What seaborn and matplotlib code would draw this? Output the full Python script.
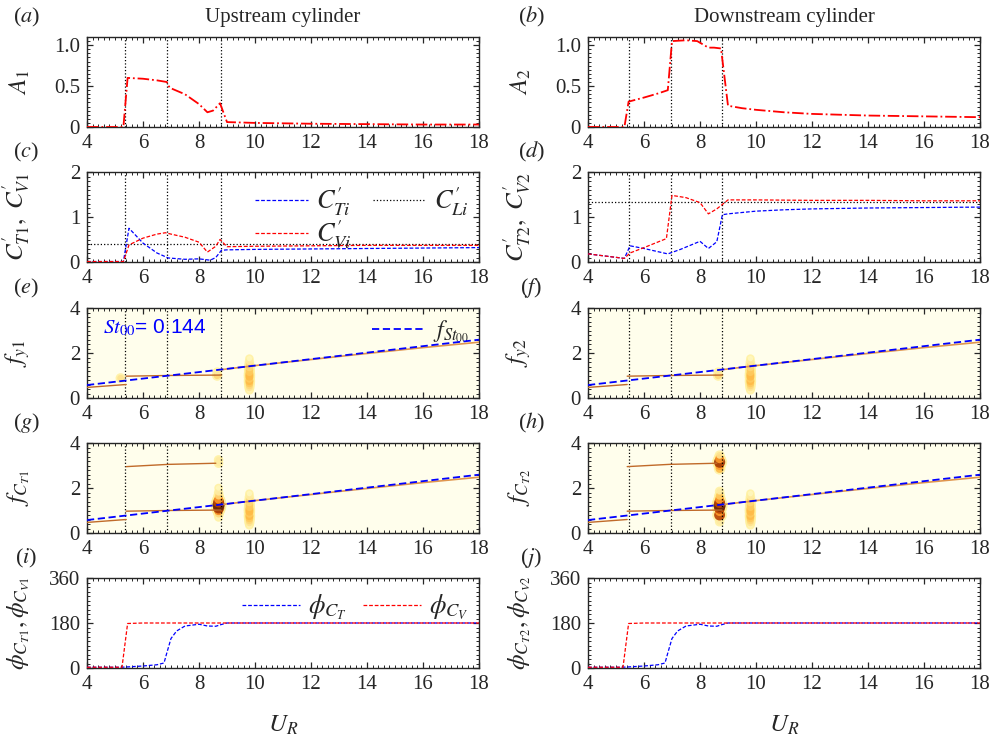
import numpy as np
import pandas as pd
import matplotlib
matplotlib.use("Agg")
import matplotlib.pyplot as plt
import seaborn as sns
from matplotlib.ticker import AutoMinorLocator

# ---------------- data ----------------
bounds_up = [5.35, 6.87, 8.77]
bounds_down = [5.45, 6.95, 8.80]

ur_a1 = [4.0, 5.0, 5.3, 5.45, 6.0, 6.5, 6.85, 6.95, 7.5, 8.0, 8.3, 8.5, 8.75, 9.0, 10, 12, 14, 16, 18]
a1 = [0.0, 0.0, 0.0, 0.60, 0.59, 0.57, 0.55, 0.48, 0.40, 0.28, 0.18, 0.20, 0.29, 0.06, 0.05, 0.04, 0.035, 0.03, 0.03]

ur_a2 = [4.0, 5.0, 5.3, 5.45, 6.0, 6.5, 6.85, 7.0, 7.5, 7.9, 8.3, 8.5, 8.75, 9.0, 9.5, 10, 11, 12, 14, 16, 18]
a2 = [0.0, 0.0, 0.0, 0.31, 0.36, 0.41, 0.45, 1.05, 1.06, 1.05, 0.97, 0.97, 0.96, 0.26, 0.23, 0.21, 0.18, 0.16, 0.14, 0.13, 0.12]

ur_ct1 = [4.0, 5.0, 5.3, 5.5, 6.0, 6.5, 6.9, 7.5, 8.0, 8.4, 8.6, 8.8, 9.0, 10, 12, 14, 16, 18]
ct1 = [0.01, 0.01, 0.01, 0.75, 0.42, 0.20, 0.09, 0.06, 0.07, 0.04, 0.10, 0.26, 0.27, 0.28, 0.29, 0.30, 0.31, 0.32]
ur_cv1 = [4.0, 5.0, 5.3, 5.5, 6.0, 6.5, 6.8, 7.0, 7.5, 8.0, 8.3, 8.6, 8.75, 9.0, 10, 12, 14, 16, 18]
cv1 = [0.01, 0.01, 0.01, 0.38, 0.53, 0.62, 0.65, 0.62, 0.55, 0.44, 0.22, 0.35, 0.50, 0.34, 0.35, 0.36, 0.37, 0.37, 0.37]
cl1 = 0.40

ur_ct2 = [4.0, 5.3, 5.5, 6.0, 6.85, 7.3, 8.0, 8.3, 8.6, 8.8, 9.0, 9.5, 10, 11, 12, 14, 16, 18]
ct2 = [0.18, 0.08, 0.36, 0.30, 0.18, 0.28, 0.46, 0.30, 0.45, 1.05, 1.07, 1.10, 1.13, 1.16, 1.18, 1.20, 1.21, 1.22]
ur_cv2 = [4.0, 5.3, 5.5, 6.0, 6.8, 7.0, 7.5, 8.0, 8.3, 8.6, 8.8, 9.0, 10, 12, 14, 16, 18]
cv2 = [0.18, 0.08, 0.20, 0.32, 0.52, 1.48, 1.43, 1.32, 1.07, 1.18, 1.28, 1.38, 1.38, 1.37, 1.37, 1.36, 1.36]
cl2 = 1.33

st00 = 0.144
ur_st = [4.0, 18.0]
f_st = [0.576, 2.592]

# spectral ridges (UR, f)
ridge_low_x = [4.0, 5.4]
ridge_low_f = [0.47, 0.60]
ridge_lock_x = [5.4, 6.9, 8.8]
ridge_lock_f = [0.97, 1.00, 1.02]
ridge_high_x = [8.8, 10, 12, 14, 16, 18]
ridge_high_f = [1.26, 1.44, 1.71, 1.98, 2.24, 2.48]
ridge_harm_x = [5.4, 6.9, 8.6]
ridge_harm_f = [2.95, 3.05, 3.10]

# spectral hot spots (UR, f, strength)
col_x = [9.8, 9.8, 9.8, 9.8, 9.8, 9.8, 9.8, 9.8, 9.8, 9.8, 9.8, 9.8, 9.8, 9.8]
col_f = [0.35, 0.45, 0.55, 0.65, 0.75, 0.85, 0.95, 1.05, 1.15, 1.25, 1.35, 1.45, 1.6, 1.75]
col_s = [0.15, 0.25, 0.30, 0.35, 0.40, 0.35, 0.40, 0.40, 0.35, 0.35, 0.30, 0.30, 0.20, 0.12]

spot_e_x = [5.2, 8.65, 8.65]
spot_e_f = [0.88, 1.0, 1.15]
spot_e_s = [0.25, 0.30, 0.20]

spot_g_x = [8.7, 8.7, 8.7, 8.7, 8.7, 8.7, 8.7, 8.7, 8.7, 8.7, 8.7, 8.7]
spot_g_f = [0.7, 0.85, 1.0, 1.12, 1.25, 1.38, 1.5, 1.65, 1.8, 2.0, 3.1, 3.25]
spot_g_s = [0.15, 0.3, 0.55, 0.85, 1.0, 0.8, 0.5, 0.3, 0.2, 0.12, 0.2, 0.2]

spot_h_x = [8.7, 8.7, 8.7, 8.7, 8.7, 8.7, 8.7, 8.7, 8.7, 8.7, 8.7, 8.7, 8.7, 8.7]
spot_h_f = [0.5, 0.8, 0.95, 1.1, 1.22, 1.35, 1.5, 1.65, 1.85, 2.85, 3.0, 3.15, 3.3, 3.45]
spot_h_s = [0.2, 0.8, 0.5, 0.8, 1.0, 0.8, 0.5, 0.35, 0.2, 0.4, 0.5, 0.85, 0.5, 0.25]

ur_pv = [4.0, 5.25, 5.45, 6.0, 18.0]
phi_v = [3, 3, 178, 180, 180]
ur_pt = [4.0, 5.2, 5.4, 6.0, 6.5, 6.75, 6.85, 7.0, 7.2, 7.5, 8.0, 8.3, 8.6, 8.8, 9.0, 10, 18]
phi_t = [3, 3, 4, 8, 13, 20, 60, 118, 148, 168, 175, 168, 167, 174, 180, 180, 180]

# ---------------- style ----------------
sns.set_style("ticks")
plt.rcParams["font.family"] = ["Liberation Serif", "DejaVu Serif"]
plt.rcParams["mathtext.fontset"] = "stix"
plt.rcParams["axes.linewidth"] = 1.0

W, H = 1001, 737
fig = plt.figure(figsize=(W / 100, H / 100), dpi=100)
lefts = [87, 588]
aw = 392
tops = [37, 172, 308, 443, 578]
ah = 90

axes = [[None] * 2 for _ in range(5)]
for r, t in enumerate(tops):
    for c, l in enumerate(lefts):
        axes[r][c] = fig.add_axes([l / W, (H - t - ah) / H, aw / W, ah / H])

RED = "#ff0000"
BLUE = "#0000ff"
SPEC_BG = "#fffeec"


def style(ax, yt, ylab, bounds):
    ax.set_xlim(4, 18)
    ax.set_xticks([4, 6, 8, 10, 12, 14, 16, 18])
    ax.set_xticklabels(["4", "6", "8", "10", "12", "14", "16", "18"])
    ax.set_yticks(yt[0])
    ax.set_yticklabels(yt[1])
    ax.xaxis.set_minor_locator(AutoMinorLocator(10))
    ax.yaxis.set_minor_locator(AutoMinorLocator(10))
    ax.tick_params(which="both", direction="in", top=True, right=True, labelsize=15, pad=5)
    ax.tick_params(which="major", length=4, width=0.9)
    ax.tick_params(which="minor", length=2, width=0.7)
    ax.set_ylabel(ylab, fontsize=18)
    ax.yaxis.set_label_coords(-0.14, 0.5)
    ax.set_xlabel("")
    for b in bounds:
        ax.axvline(b, color="black", ls=":", lw=0.9, zorder=4)


def line(ax, x, y, color, ls, lw=1.0, label=None):
    sns.lineplot(x=x, y=y, ax=ax, color=color, linestyle=ls, lw=lw, label=label, legend=False, zorder=5)


# ----- row 0 : amplitudes -----
ax = axes[0][0]
line(ax, ur_a1, a1, RED, "-.", 1.3)
ax.set_ylim(0, 1.1)
style(ax, ([0, 0.5, 1.0], ["0", "0.5", "1.0"]), r"$A_1$", bounds_up)
ax = axes[0][1]
line(ax, ur_a2, a2, RED, "-.", 1.3)
ax.set_ylim(0, 1.1)
style(ax, ([0, 0.5, 1.0], ["0", "0.5", "1.0"]), r"$A_2$", bounds_down)

# ----- row 1 : force coefficients -----
for c, (uct, ct, ucv, cv, cl, bnd, sub) in enumerate(
        [(ur_ct1, ct1, ur_cv1, cv1, cl1, bounds_up, "1"),
         (ur_ct2, ct2, ur_cv2, cv2, cl2, bounds_down, "2")]):
    ax = axes[1][c]
    line(ax, uct, ct, BLUE, (0, (3, 1.5)), 0.9, r"$C^{\prime}_{Ti}$")
    line(ax, ucv, cv, RED, (0, (3, 1.5)), 0.9, r"$C^{\prime}_{Vi}$")
    ax.axhline(cl, color="black", ls=":", lw=0.9, label=r"$C^{\prime}_{Li}$")
    ax.set_ylim(0, 2)
    style(ax, ([0, 1, 2], ["0", "1", "2"]),
          r"$C^{\prime}_{T%s},\ C^{\prime}_{V%s}$" % (sub, sub), bnd)
    if c == 0:
        h, lab = ax.get_legend_handles_labels()
        ax.legend(h, lab, loc="upper right", ncol=2, frameon=False, fontsize=19,
                  handlelength=2.0, handletextpad=0.3, columnspacing=0.8, labelspacing=0.0,
                  borderaxespad=0.0, bbox_to_anchor=(1.0, 0.97))


# ----- rows 2,3 : spectra -----
def spectrum(ax, harmonic, spots, bnd, ylab, legend_on, st_text):
    ax.set_facecolor(SPEC_BG)
    rc = "#c06a2a"
    line(ax, ridge_low_x, ridge_low_f, rc, "-", 1.0)
    line(ax, ridge_lock_x, ridge_lock_f, rc, "-", 1.0)
    line(ax, ridge_high_x, ridge_high_f, "#e0964e", "-", 1.2)
    if harmonic:
        line(ax, ridge_harm_x, ridge_harm_f, rc, "-", 1.0)
    for (sx, sf, ss) in [(col_x, col_f, col_s), spots]:
        ax.scatter(sx, sf, s=[110 * v + 25 for v in ss], c="#fff09a", edgecolors="none",
                   alpha=0.8, zorder=2)
        ax.scatter(sx, sf, s=[70 * v + 6 for v in ss], c=ss, cmap="YlOrBr", vmin=0, vmax=1.0,
                   edgecolors="none", alpha=0.9, zorder=3)
    sns.lineplot(x=ur_st, y=f_st, ax=ax, color=BLUE, linestyle=(0, (4, 2)), lw=1.3,
                 label=r"$f_{St_{00}}$" if legend_on else None, legend=False, zorder=6)
    ax.set_ylim(0, 4)
    style(ax, ([0, 2, 4], ["0", "2", "4"]), ylab, bnd)
    if legend_on:
        h, lab = ax.get_legend_handles_labels()
        ax.legend(h, lab, loc="upper right", frameon=False, fontsize=17, handlelength=2.2,
                  handletextpad=0.4, borderaxespad=0.0, bbox_to_anchor=(1.0, 0.99))
    if st_text:
        ax.text(0.04, 0.78, r"$St_{00}$= 0.144", transform=ax.transAxes, color=BLUE,
                fontsize=15, family=["Liberation Sans", "DejaVu Sans"], va="center", zorder=7)


spectrum(axes[2][0], False, (spot_e_x, spot_e_f, spot_e_s), bounds_up, r"$f_{y1}$", True, True)
spectrum(axes[2][1], False, (spot_e_x[1:], spot_e_f[1:], spot_e_s[1:]), bounds_down, r"$f_{y2}$", False, False)
spectrum(axes[3][0], True, (spot_g_x, spot_g_f, spot_g_s), bounds_up, r"$f_{C_{T1}}$", False, False)
spectrum(axes[3][1], True, (spot_h_x, spot_h_f, spot_h_s), bounds_down, r"$f_{C_{T2}}$", False, False)

# ----- row 4 : phases -----
for c, sub in enumerate(["1", "2"]):
    ax = axes[4][c]
    line(ax, ur_pt, phi_t, BLUE, (0, (3, 1.5)), 0.9, r"$\phi_{C_T}$")
    line(ax, ur_pv, phi_v, RED, (0, (3, 1.5)), 0.9, r"$\phi_{C_V}$")
    ax.set_ylim(0, 360)
    style(ax, ([0, 180, 360], ["0", "180", "360"]),
          r"$\phi_{C_{T%s}},\phi_{C_{V%s}}$" % (sub, sub), [])
    ax.set_xlabel(r"$U_R$", fontsize=18, labelpad=14)
    if c == 0:
        h, lab = ax.get_legend_handles_labels()
        ax.legend(h, lab, loc="upper right", ncol=2, frameon=False, fontsize=19,
                  handlelength=2.2, handletextpad=0.3, columnspacing=0.6, borderaxespad=0.0,
                  bbox_to_anchor=(1.0, 0.95))

# ----- panel letters and titles -----
letters = [["a", "b"], ["c", "d"], ["e", "f"], ["g", "h"], ["i", "j"]]
for r in range(5):
    for c in range(2):
        ax = axes[r][c]
        ax.text(-0.155 if c == 0 else -0.145, 1.22, "(" + r"$%s$" % letters[r][c] + ")",
                transform=ax.transAxes, fontsize=16, ha="center", va="center")
axes[0][0].text(0.5, 1.22, "Upstream cylinder", transform=axes[0][0].transAxes,
                fontsize=15, ha="center", va="center")
axes[0][1].text(0.5, 1.22, "Downstream cylinder", transform=axes[0][1].transAxes,
                fontsize=15, ha="center", va="center")

fig.savefig("out.png", dpi=100)
